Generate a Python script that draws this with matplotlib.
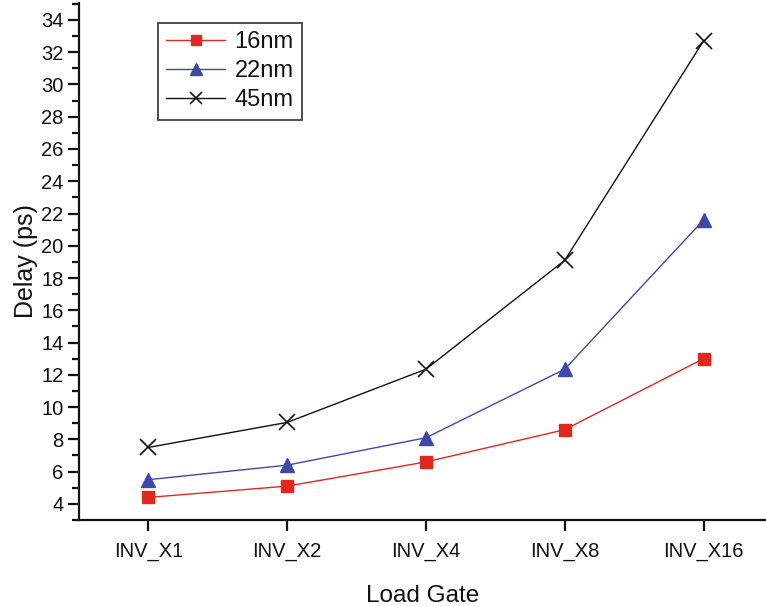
import matplotlib
matplotlib.use("Agg")
import matplotlib.pyplot as plt
from matplotlib.ticker import MultipleLocator

plt.rcParams['font.family'] = ['Liberation Sans', 'DejaVu Sans']

categories = ["INV_X1", "INV_X2", "INV_X4", "INV_X8", "INV_X16"]
delay_16nm = [4.4, 5.1, 6.6, 8.6, 13.0]
delay_22nm = [5.5, 6.4, 8.1, 12.35, 21.6]
delay_45nm = [7.5, 9.05, 12.35, 19.1, 32.7]
y_ticks = [4, 6, 8, 10, 12, 14, 16, 18, 20, 22, 24, 26, 28, 30, 32, 34]

fig = plt.figure(figsize=(7.66, 6.06), dpi=100)
ax = fig.add_axes([79/766, 86/606, 1 - 79/766, (520-3)/606])

x = list(range(len(categories)))
ax.plot(x, delay_16nm, color='#e0281e', lw=1.0, marker='s', ms=9, mec='#e0281e',
        mfc='#e0281e', label='16nm')
ax.plot(x, delay_22nm, color='#3f48a8', lw=1.0, marker='^', ms=10.5, mec='#3f48a8',
        mfc='#3f48a8', label='22nm')
ax.plot(x, delay_45nm, color='#111111', lw=1.0, marker='x', ms=11, mew=1.2,
        label='45nm')

ax.set_xlim(-0.5, 4.45)
ax.set_ylim(3, 35.05)
ax.set_xticks(x)
ax.set_xticklabels(categories)
ax.set_yticks(y_ticks)
ax.yaxis.set_minor_locator(MultipleLocator(1))

for s in ['top', 'right']:
    ax.spines[s].set_visible(False)
for s in ['left', 'bottom']:
    ax.spines[s].set_linewidth(1.6)
    ax.spines[s].set_color('#111111')

ax.tick_params(axis='both', which='major', direction='out', length=8, width=1.6,
               labelsize=14.5, colors='#111111', pad=3)
ax.tick_params(axis='y', which='minor', direction='out', length=5, width=1.6,
               colors='#111111')
ax.tick_params(axis='x', which='major', pad=8)

ax.set_xlabel('Load Gate', fontsize=17.5, labelpad=17, color='#111111')
ax.set_ylabel('Delay (ps)', fontsize=18, labelpad=2, color='#111111')

leg = ax.legend(loc='upper left', bbox_to_anchor=((158-79)/687, 1 - (23-3)/517),
                fontsize=17, frameon=True, fancybox=False, edgecolor='#111111',
                handlelength=2.5, borderpad=0.35, labelspacing=0.3,
                handletextpad=0.4, borderaxespad=0, markerscale=0.85)
leg.get_frame().set_linewidth(1.3)
for t in leg.get_texts():
    t.set_color('#111111')

fig.savefig('out.png', dpi=100)
